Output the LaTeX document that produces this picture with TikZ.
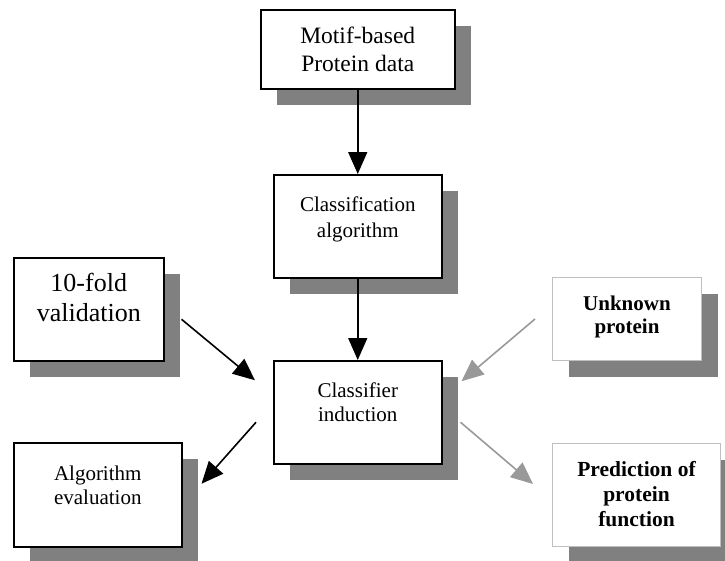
\documentclass[tikz,border=0pt]{standalone}
\usepackage{fontspec}
\setmainfont{Liberation Serif}
\usetikzlibrary{arrows.meta,calc,shadows}

\tikzset{
  box/.style={draw, line width=1.5pt, fill=white, inner sep=0pt, align=center,
    anchor=north west, font=\fontsize{21}{24}\selectfont,
    drop shadow={shadow xshift=16pt, shadow yshift=-16pt, fill=black!50, opacity=1}},
  lightbox/.style={box, draw=black!25, line width=1pt},
  arr/.style={line width=1.6pt, -{Triangle[length=22pt,width=19pt]}},
  greyarr/.style={arr, draw=black!40}
}

\begin{document}
\begin{tikzpicture}[x=1pt, y=-1pt]
  \useasboundingbox (0,0) rectangle (725,560);

  \node[box, minimum width=194pt, minimum height=79pt, text depth=-6pt,
    font=\fontsize{23.5}{28}\selectfont] (mot) at (260,9)
    {Motif-based\\Protein data};
  \node[box, minimum width=168pt, minimum height=103pt, text depth=19pt,
    font=\fontsize{21}{26}\selectfont] (cls) at (273,174)
    {Classification\\algorithm};
  \node[box, minimum width=150pt, minimum height=103pt, text depth=23pt,
    font=\fontsize{26}{30}\selectfont] (val) at (13,257)
    {10-fold\\validation};
  \node[box, minimum width=168pt, minimum height=103pt, text depth=21pt] (ind) at (273,360)
    {Classifier\\induction};
  \node[lightbox, minimum width=149pt, minimum height=83pt, text depth=8pt,
    font=\bfseries\fontsize{21}{23}\selectfont] (unk) at (552,277)
    {Unknown\\protein};
  \node[box, minimum width=168pt, minimum height=104pt, text depth=20pt] (eva) at (13,442)
    {Algorithm\\evaluation};
  \node[lightbox, minimum width=168pt, minimum height=103pt, text depth=3pt,
    font=\bfseries\fontsize{21.5}{25}\selectfont] (pre) at (552,443)
    {Prediction of\\protein\\function};

  % main chain
  \draw[arr] (mot.south) -- (cls.north);
  \draw[arr] (cls.south) -- (ind.north);

  \draw[arr] ($(val.east)+(17,10)$) -- ($(ind.west)+(-18,-32)$);
  \draw[arr] ($(ind.west)+(-17,10)$) -- ($(eva.east)+(19,-11)$);

  % unknown protein in, prediction out
  \draw[greyarr] ($(unk.west)+(-17,0)$) -- ($(ind.east)+(19,-31)$);
  \draw[greyarr] ($(ind.east)+(18,10)$) -- ($(pre.west)+(-19,-11)$);
\end{tikzpicture}
\end{document}
